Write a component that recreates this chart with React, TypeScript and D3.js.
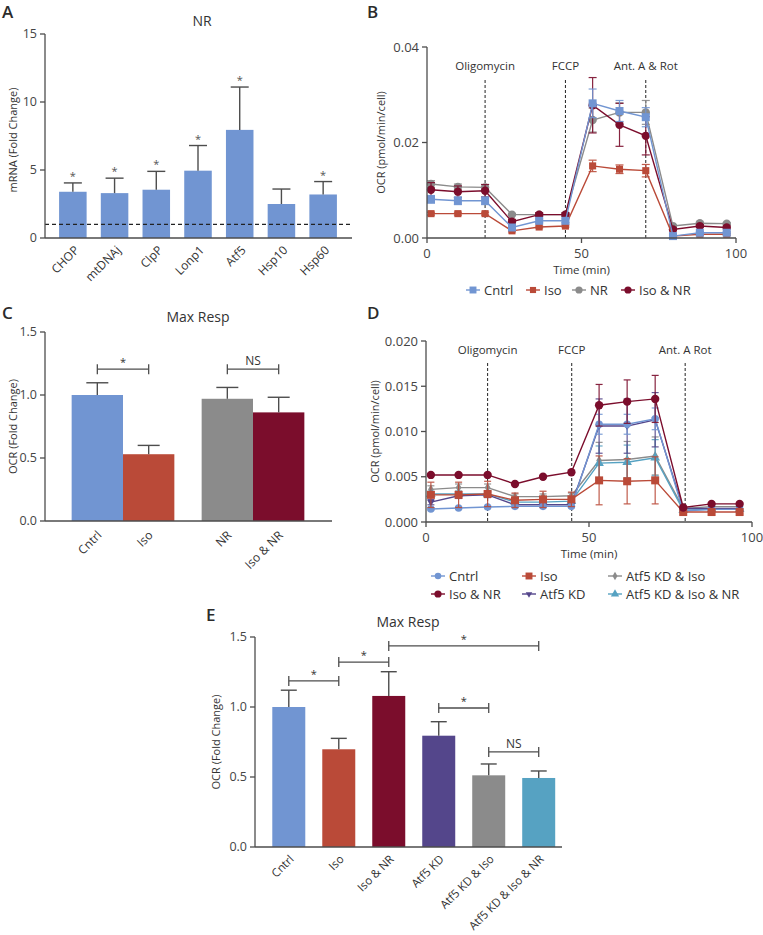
import React from "react";
import * as d3 from "d3";

const FONT = "'Open Sans', 'Noto Sans', Arial, sans-serif";
const INK = "#4d4d4d";
const TICK_TXT = "#444";
const TXT = "#333";

const BLUE = "#7195d2";
const RED = "#ba4a38";
const GREY = "#8b8b8b";
const DRED = "#7b0d2c";
const PURPLE = "#54468b";
const TEAL = "#56a2c2";

// ---------------- Panel A ----------------
const genes = ["CHOP", "mtDNAj", "ClpP", "Lonp1", "Atf5", "Hsp10", "Hsp60"];
const geneMean = [3.4, 3.3, 3.55, 4.95, 7.95, 2.5, 3.2];
const geneErr = [0.65, 1.1, 1.35, 1.85, 3.15, 1.1, 0.95];
const geneSig = [true, true, true, true, true, false, true];
const ticksA = [0, 5, 10, 15];

// ---------------- Panel B ----------------
const timeB = [1.3, 10, 18.8, 27.5, 36.3, 44.8, 53.6, 62.3, 70.8, 79.6, 88.3, 97];
const injB = [18.8, 44.8, 70.8];
const injLabelB = ["Oligomycin", "FCCP", "Ant. A & Rot"];
const ticksBy = [0, 0.02, 0.04];
const ticksX = [0, 50, 100];
const bCntrl = [0.0081, 0.0078, 0.0078, 0.0022, 0.0036, 0.0036, 0.0282, 0.0266, 0.0253, 0.0004, 0.0011, 0.0011];
const bCntrlErr = [0.0008, 0.0008, 0.0008, 0.0004, 0.0004, 0.0004, 0.003, 0.0022, 0.002, 0.0002, 0.0002, 0.0002];
const bIso = [0.0051, 0.0051, 0.0051, 0.0015, 0.0023, 0.0025, 0.0151, 0.0144, 0.0141, 0.0004, 0.0008, 0.0008];
const bIsoErr = [0.0003, 0.0003, 0.0003, 0.0002, 0.0002, 0.0002, 0.0012, 0.0009, 0.0013, 0.0002, 0.0002, 0.0002];
const bNR = [0.0113, 0.0107, 0.0106, 0.0049, 0.0049, 0.0049, 0.0247, 0.0263, 0.0263, 0.0025, 0.0031, 0.003];
const bNRErr = [0.0007, 0.0006, 0.0006, 0.0002, 0.0003, 0.0003, 0.0025, 0.002, 0.0025, 0.0002, 0.0002, 0.0002];
const bIsoNR = [0.0101, 0.0097, 0.0099, 0.0034, 0.0049, 0.0049, 0.0278, 0.0237, 0.0214, 0.0018, 0.0025, 0.0022];
const bIsoNRErr = [0.0015, 0.0012, 0.0013, 0.0005, 0.0004, 0.0004, 0.0058, 0.0045, 0.004, 0.0003, 0.0003, 0.0003];

// ---------------- Panel C ----------------
const catsC = ["Cntrl", "Iso", "NR", "Iso & NR"];
const groupC = ["g1", "g1", "g2", "g2"];
const meanC = [1.0, 0.53, 0.97, 0.862];
const errC = [0.097, 0.07, 0.09, 0.12];
const ticksC = [0, 0.5, 1.0, 1.5];

// ---------------- Panel D ----------------
const timeD = [1.5, 10, 18.9, 27.3, 35.9, 44.6, 53.1, 61.7, 70.3, 78.9, 87.6, 96.2];
const injD = [18.9, 44.7, 79.5];
const injLabelD = ["Oligomycin", "FCCP", "Ant. A Rot"];
const ticksDy = [0, 0.005, 0.01, 0.015, 0.02];
const dCntrl = [0.00144, 0.00155, 0.00166, 0.00173, 0.00173, 0.00173, 0.0108, 0.0108, 0.0114, 0.00122, 0.0014, 0.0014];
const dCntrlErr = [0.0001, 0.0001, 0.0001, 0.0001, 0.0001, 0.0001, 0.0011, 0.0011, 0.0012, 0.0001, 0.0001, 0.0001];
const dIso = [0.003, 0.003, 0.0031, 0.0024, 0.0025, 0.0025, 0.0046, 0.0045, 0.0046, 0.0011, 0.0011, 0.0011];
const dIsoErr = [0.0014, 0.0014, 0.0014, 0.0008, 0.0009, 0.0008, 0.0027, 0.0025, 0.0026, 0.0002, 0.0002, 0.0002];
const dIsoNR = [0.0052, 0.0052, 0.0052, 0.0042, 0.005, 0.0055, 0.0129, 0.0133, 0.0136, 0.0016, 0.002, 0.002];
const dIsoNRErr = [0, 0, 0, 0, 0, 0, 0.0023, 0.0024, 0.0026, 0, 0, 0];
const dAtf = [0.0022, 0.0029, 0.003, 0.0019, 0.0019, 0.0019, 0.0106, 0.0106, 0.0113, 0.0015, 0.0015, 0.0015];
const dAtfErr = [0.0003, 0.0003, 0.0003, 0.0002, 0.0002, 0.0002, 0.003, 0.003, 0.003, 0.0002, 0.0002, 0.0002];
const dAtfIso = [0.0036, 0.0038, 0.0038, 0.0028, 0.0028, 0.0029, 0.0068, 0.0069, 0.0073, 0.0015, 0.0017, 0.0017];
const dAtfIsoErr = [0.0004, 0.0004, 0.0004, 0.0003, 0.0003, 0.0003, 0.002, 0.002, 0.0021, 0.0002, 0.0002, 0.0002];
const dAtfIsoNR = [0.0031, 0.0031, 0.0031, 0.0022, 0.0022, 0.0023, 0.0065, 0.0066, 0.0071, 0.0013, 0.0014, 0.0014];
const dAtfIsoNRErr = [0.0003, 0.0003, 0.0003, 0.0002, 0.0002, 0.0002, 0.0019, 0.0019, 0.002, 0.0002, 0.0002, 0.0002];

// ---------------- Panel E ----------------
const catsE = ["Cntrl", "Iso", "Iso & NR", "Atf5 KD", "Atf5 KD & Iso", "Atf5 KD & Iso & NR"];
const meanE = [1.0, 0.698, 1.079, 0.795, 0.512, 0.493];
const errE = [0.12, 0.078, 0.173, 0.1, 0.081, 0.05];
const colorsE = [BLUE, RED, DRED, PURPLE, GREY, TEAL];
const ticksE = [0, 0.5, 1.0, 1.5];
const bracketA_E = [0, 1, 2, 3, 4];
const bracketB_E = [1, 2, 5, 4, 5];
const bracketY_E = [1.186, 1.321, 1.436, 0.993, 0.679];
const bracketL_E = ["*", "*", "*", "*", "NS"];

type Shape = "square" | "circle" | "triDown" | "diamond" | "triUp";
interface Series { name: string; values: number[]; errs: number[]; color: string; shape: Shape; size: number; }

function symPath(shape: Shape, size: number) {
  const t = shape === "square" ? d3.symbolSquare : shape === "circle" ? d3.symbolCircle : shape === "diamond" ? d3.symbolDiamond : d3.symbolTriangle;
  return d3.symbol().type(t).size(size)() as string;
}

function YAxis({ scale, ticks, x, fmt, fs }: any) {
  const [y0, y1] = scale.range();
  return (
    <g>
      <line x1={x} x2={x} y1={y0} y2={y1} stroke={INK} strokeWidth={1.3} />
      {ticks.map((t: number) => (
        <g key={t}>
          <line x1={x - 5} x2={x} y1={scale(t)} y2={scale(t)} stroke={INK} strokeWidth={1.3} />
          <text x={x - 8} y={scale(t)} dy="0.35em" textAnchor="end" fontSize={fs} fill={TICK_TXT}>{fmt(t)}</text>
        </g>
      ))}
    </g>
  );
}

function XAxisLinear({ scale, ticks, y }: any) {
  const [x0, x1] = scale.range();
  return (
    <g>
      <line x1={x0} x2={x1} y1={y} y2={y} stroke={INK} strokeWidth={1.3} />
      {ticks.map((t: number) => (
        <g key={t}>
          <line x1={scale(t)} x2={scale(t)} y1={y} y2={y + 5} stroke={INK} strokeWidth={1.3} />
          <text x={scale(t)} y={y + 20} textAnchor="middle" fontSize={13} fill={TICK_TXT}>{t}</text>
        </g>
      ))}
    </g>
  );
}

function LineSeries({ s, x, y, times, cap }: { s: Series; x: any; y: any; times: number[]; cap: number }) {
  const line = d3.line<number>().x((_, i) => x(times[i])).y((v) => y(v));
  return (
    <g>
      {s.values.map((v, i) => {
        const e = s.errs[i];
        if (!e) return null;
        const cx = x(times[i]);
        return (
          <g key={i} stroke={s.color} strokeWidth={1.2} opacity={0.9}>
            <line x1={cx} x2={cx} y1={y(v - e)} y2={y(v + e)} />
            <line x1={cx - cap / 2} x2={cx + cap / 2} y1={y(v + e)} y2={y(v + e)} />
            <line x1={cx - cap / 2} x2={cx + cap / 2} y1={y(v - e)} y2={y(v - e)} />
          </g>
        );
      })}
      <path d={line(s.values) as string} fill="none" stroke={s.color} strokeWidth={1.4} />
      {s.values.map((v, i) => (
        <path key={i} d={symPath(s.shape, s.size)} fill={s.color}
          transform={`translate(${x(times[i])},${y(v)})${s.shape === "triDown" ? " rotate(180)" : ""}`} />
      ))}
    </g>
  );
}

function LegendItem({ s, x, y }: { s: Series; x: number; y: number }) {
  return (
    <g>
      <line x1={x - 7} x2={x + 7} y1={y} y2={y} stroke={s.color} strokeWidth={1.4} />
      <path d={symPath(s.shape, s.size * 0.75)} fill={s.color}
        transform={`translate(${x},${y})${s.shape === "triDown" ? " rotate(180)" : ""}`} />
      <text x={x + 11} y={y} dy="0.35em" fontSize={13} fill={TXT}>{s.name}</text>
    </g>
  );
}

function Bracket({ x1, x2, y, label }: { x1: number; x2: number; y: number; label: string }) {
  return (
    <g stroke={INK} strokeWidth={1.3}>
      <line x1={x1} x2={x2} y1={y} y2={y} />
      <line x1={x1} x2={x1} y1={y - 5} y2={y + 5} />
      <line x1={x2} x2={x2} y1={y - 5} y2={y + 5} />
      <text x={(x1 + x2) / 2} y={label === "*" ? y - 3 : y - 4} textAnchor="middle" stroke="none" fill={TXT}
        fontSize={label === "*" ? 11 : 12}>{label}</text>
    </g>
  );
}

export default function App() {
  const xA = d3.scaleBand<string>().domain(genes).range([52, 344]).paddingInner(0.34).paddingOuter(0.17);
  const yA = d3.scaleLinear().domain([0, 15]).range([238, 34]);
  const xB = d3.scaleLinear().domain([0, 100]).range([427, 736]);
  const yB = d3.scaleLinear().domain([0, 0.04]).range([238, 47]);
  const xCg = d3.scaleBand<string>().domain(["g1", "g2"]).range([45, 331]).paddingInner(0.21).paddingOuter(0.205);
  const yC = d3.scaleLinear().domain([0, 1.5]).range([521, 332]);
  const bwC = xCg.bandwidth() / 2;
  const xC = (i: number) => (xCg(groupC[i]) as number) + (i % 2) * bwC;
  const colorsC = [BLUE, RED, GREY, DRED];
  const xD = d3.scaleLinear().domain([0, 100]).range([426, 752]);
  const yD = d3.scaleLinear().domain([0, 0.02]).range([522, 341]);
  const xE = d3.scaleBand<string>().domain(catsE).range([255, 572.5]).paddingInner(0.34).paddingOuter(0.346);
  const yE = d3.scaleLinear().domain([0, 1.5]).range([847, 637]);

  const seriesB: Series[] = [
    { name: "NR", values: bNR, errs: bNRErr, color: GREY, shape: "circle", size: 55 },
    { name: "Iso & NR", values: bIsoNR, errs: bIsoNRErr, color: DRED, shape: "circle", size: 55 },
    { name: "Iso", values: bIso, errs: bIsoErr, color: RED, shape: "square", size: 50 },
    { name: "Cntrl", values: bCntrl, errs: bCntrlErr, color: BLUE, shape: "square", size: 64 },
  ];
  const legendB = ["Cntrl", "Iso", "NR", "Iso & NR"].map((n) => seriesB.find((s) => s.name === n) as Series);
  const legendBx = [473, 533, 579, 628];

  const seriesD: Series[] = [
    { name: "Atf5 KD & Iso", values: dAtfIso, errs: dAtfIsoErr, color: GREY, shape: "diamond", size: 28 },
    { name: "Atf5 KD & Iso & NR", values: dAtfIsoNR, errs: dAtfIsoNRErr, color: TEAL, shape: "triUp", size: 40 },
    { name: "Atf5 KD", values: dAtf, errs: dAtfErr, color: PURPLE, shape: "triDown", size: 24 },
    { name: "Cntrl", values: dCntrl, errs: dCntrlErr, color: BLUE, shape: "circle", size: 45 },
    { name: "Iso", values: dIso, errs: dIsoErr, color: RED, shape: "square", size: 64 },
    { name: "Iso & NR", values: dIsoNR, errs: dIsoNRErr, color: DRED, shape: "circle", size: 55 },
  ];
  const legendDorder = [["Cntrl", "Iso", "Atf5 KD & Iso"], ["Iso & NR", "Atf5 KD", "Atf5 KD & Iso & NR"]];
  const legendDx = [438, 529, 615];
  const legendDy = [576, 594];

  const fmt2 = (t: number) => t.toFixed(2);
  const fmt3 = (t: number) => t.toFixed(3);
  const fmt1 = (t: number) => t.toFixed(1);

  return (
    <svg width={763} height={935} style={{ position: "absolute", left: 0, top: 0, background: "#fff" }}
      fontFamily={FONT}>
      <rect width={763} height={935} fill="#fff" />
      <g fontSize={17} fontWeight={600} fill="#2b2b2b">
        <text x={2} y={18}>A</text>
        <text x={367} y={18}>B</text>
        <text x={2} y={319}>C</text>
        <text x={367} y={319}>D</text>
        <text x={206} y={621}>E</text>
      </g>

      {/* Panel A */}
      <text x={202} y={26} textAnchor="middle" fontSize={14} fontWeight={500} fill={TXT}>NR</text>
      <text transform={`translate(17,${(yA(0) + yA(15)) / 2 + 4}) rotate(-90)`} textAnchor="middle" fontSize={11}
        fontWeight={500} fill={TXT}>mRNA (Fold Change)</text>
      {genes.map((g, i) => {
        const x0 = xA(g) as number;
        const bw = xA.bandwidth();
        const cx = x0 + bw / 2;
        const top = yA(geneMean[i] + geneErr[i]);
        return (
          <g key={g}>
            <rect x={x0} y={yA(geneMean[i])} width={bw} height={yA(0) - yA(geneMean[i])} fill={BLUE} />
            <line x1={cx} x2={cx} y1={yA(geneMean[i])} y2={top} stroke={INK} strokeWidth={1.4} />
            <line x1={cx - 9} x2={cx + 9} y1={top} y2={top} stroke={INK} strokeWidth={1.4} />
            {geneSig[i] && <text x={cx} y={top - 3} textAnchor="middle" fontSize={11} fill="#555">*</text>}
            <text transform={`translate(${cx + 4},${yA(0) + 10}) rotate(-45)`} textAnchor="end" dy="0.35em"
              fontSize={12} fill={TXT}>{g}</text>
          </g>
        );
      })}
      <line x1={45} x2={352} y1={yA(1)} y2={yA(1)} stroke="#222" strokeWidth={1.1} strokeDasharray="4,3" />
      <line x1={45} x2={352} y1={yA(0)} y2={yA(0)} stroke={INK} strokeWidth={1.3} />
      <YAxis scale={yA} ticks={ticksA} x={45} fmt={(t: number) => String(t)} fs={12.5} />

      {/* Panel B */}
      <text transform={`translate(385,${(yB(0) + yB(0.04)) / 2}) rotate(-90)`} textAnchor="middle" fontSize={11}
        fontWeight={500} fill={TXT}>OCR (pmol/min/cell)</text>
      {injB.map((t, i) => (
        <g key={t}>
          <line x1={xB(t)} x2={xB(t)} y1={80} y2={yB(0)} stroke="#222" strokeWidth={1} strokeDasharray="3,2" />
          <text x={xB(t)} y={70} textAnchor="middle" fontSize={11.5} fontWeight={500} fill={TXT}>{injLabelB[i]}</text>
        </g>
      ))}
      {seriesB.map((s) => <LineSeries key={s.name} s={s} x={xB} y={yB} times={timeB} cap={8} />)}
      <XAxisLinear scale={xB} ticks={ticksX} y={yB(0)} />
      <YAxis scale={yB} ticks={ticksBy} x={xB(0)} fmt={fmt2} fs={13} />
      <text x={xB(50)} y={274} textAnchor="middle" fontSize={11.5} fontWeight={500} fill={TXT}>Time (min)</text>
      {legendB.map((s, i) => <LegendItem key={s.name} s={s} x={legendBx[i]} y={290} />)}

      {/* Panel C */}
      <text x={198} y={322} textAnchor="middle" fontSize={14} fontWeight={500} fill={TXT}>Max Resp</text>
      <text transform={`translate(17,${(yC(0) + yC(1.5)) / 2}) rotate(-90)`} textAnchor="middle" fontSize={11}
        fontWeight={500} fill={TXT}>OCR (Fold Change)</text>
      {catsC.map((c, i) => {
        const x0 = xC(i);
        const cx = x0 + bwC / 2;
        const top = yC(meanC[i] + errC[i]);
        return (
          <g key={c}>
            <rect x={x0} y={yC(meanC[i])} width={bwC} height={yC(0) - yC(meanC[i])} fill={colorsC[i]} />
            <line x1={cx} x2={cx} y1={yC(meanC[i])} y2={top} stroke={INK} strokeWidth={1.4} />
            <line x1={cx - 11} x2={cx + 11} y1={top} y2={top} stroke={INK} strokeWidth={1.4} />
            <text transform={`translate(${cx + 2},${yC(0) + 12}) rotate(-45)`} textAnchor="end" dy="0.35em"
              fontSize={12} fill={TXT}>{c}</text>
          </g>
        );
      })}
      <Bracket x1={xC(0) + bwC / 2} x2={xC(1) + bwC / 2} y={yC(1.205)} label="*" />
      <Bracket x1={xC(2) + bwC / 2} x2={xC(3) + bwC / 2} y={yC(1.205)} label="NS" />
      <line x1={45} x2={332} y1={yC(0)} y2={yC(0)} stroke={INK} strokeWidth={1.3} />
      <YAxis scale={yC} ticks={ticksC} x={45} fmt={fmt1} fs={12.5} />

      {/* Panel D */}
      <text transform={`translate(379,${(yD(0) + yD(0.02)) / 2}) rotate(-90)`} textAnchor="middle" fontSize={11}
        fontWeight={500} fill={TXT}>OCR (pmol/min/cell)</text>
      {injD.map((t, i) => (
        <g key={t}>
          <line x1={xD(t)} x2={xD(t)} y1={363} y2={yD(0)} stroke="#222" strokeWidth={1} strokeDasharray="3,2" />
          <text x={xD(t)} y={354} textAnchor="middle" fontSize={11.5} fontWeight={500} fill={TXT}>{injLabelD[i]}</text>
        </g>
      ))}
      {seriesD.map((s) => <LineSeries key={s.name} s={s} x={xD} y={yD} times={timeD} cap={7} />)}
      <XAxisLinear scale={xD} ticks={ticksX} y={yD(0)} />
      <YAxis scale={yD} ticks={ticksDy} x={xD(0)} fmt={fmt3} fs={13} />
      <text x={xD(50)} y={558} textAnchor="middle" fontSize={11.5} fontWeight={500} fill={TXT}>Time (min)</text>
      {legendDorder.map((row, r) => row.map((n, c) => {
        const s = seriesD.find((q) => q.name === n) as Series;
        return <LegendItem key={n} s={s} x={legendDx[c]} y={legendDy[r]} />;
      }))}

      {/* Panel E */}
      <text x={408} y={627} textAnchor="middle" fontSize={14} fontWeight={500} fill={TXT}>Max Resp</text>
      <text transform={`translate(220,${(yE(0) + yE(1.5)) / 2}) rotate(-90)`} textAnchor="middle" fontSize={11}
        fontWeight={500} fill={TXT}>OCR (Fold Change)</text>
      {catsE.map((c, i) => {
        const x0 = xE(c) as number;
        const bw = xE.bandwidth();
        const cx = x0 + bw / 2;
        const top = yE(meanE[i] + errE[i]);
        return (
          <g key={c}>
            <rect x={x0} y={yE(meanE[i])} width={bw} height={yE(0) - yE(meanE[i])} fill={colorsE[i]} />
            <line x1={cx} x2={cx} y1={yE(meanE[i])} y2={top} stroke={INK} strokeWidth={1.4} />
            <line x1={cx - 8} x2={cx + 8} y1={top} y2={top} stroke={INK} strokeWidth={1.4} />
            <text transform={`translate(${cx + 3},${yE(0) + 10}) rotate(-45)`} textAnchor="end" dy="0.35em"
              fontSize={11.5} fill={TXT}>{c}</text>
          </g>
        );
      })}
      {bracketA_E.map((a, k) => {
        const b = bracketB_E[k];
        const xa = (xE(catsE[a]) as number) + xE.bandwidth() / 2;
        const xb = (xE(catsE[b]) as number) + xE.bandwidth() / 2;
        return <Bracket key={k} x1={xa} x2={xb} y={yE(bracketY_E[k])} label={bracketL_E[k]} />;
      })}
      <line x1={255} x2={562} y1={yE(0)} y2={yE(0)} stroke={INK} strokeWidth={1.3} />
      <YAxis scale={yE} ticks={ticksE} x={255} fmt={fmt1} fs={12.5} />
    </svg>
  );
}
